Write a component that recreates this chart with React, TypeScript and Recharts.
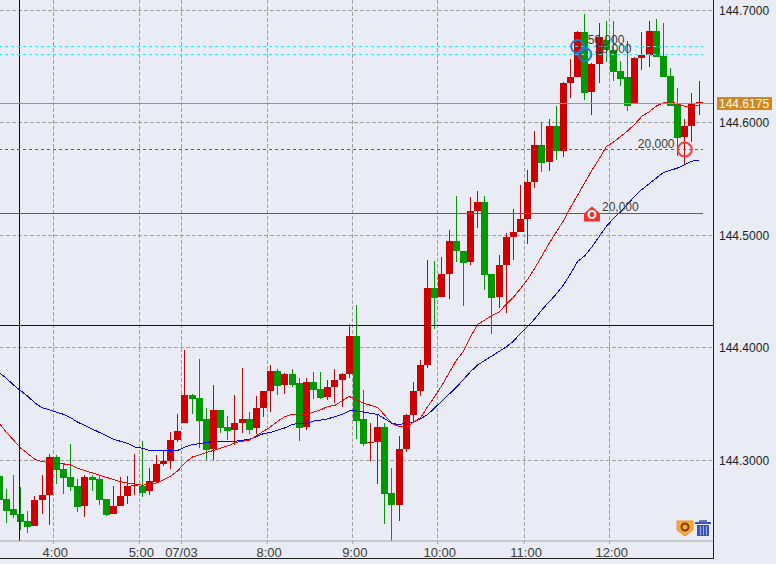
import { Bar, CartesianGrid, ComposedChart, Line, ReferenceDot, ReferenceLine, XAxis, YAxis } from "recharts";

const RED = "#CC0000";
const GREEN = "#009900";
const BG = "#E9ECF4";
const TEXT = "#3C3C3C";
const FONT = "'Liberation Sans', Arial, sans-serif";

const openPrices = [
  144.286, 144.265, 144.256, 144.252, 144.246, 144.241, 144.264, 144.269, 144.303, 144.292,
  144.285, 144.277, 144.259, 144.285, 144.283, 144.265, 144.252, 144.259, 144.268, 144.277,
  144.277, 144.272, 144.280, 144.296, 144.299, 144.318, 144.333, 144.358, 144.355, 144.336,
  144.310, 144.344, 144.329, 144.327, 144.333, 144.336, 144.328, 144.346, 144.361, 144.379,
  144.367, 144.376, 144.368, 144.329, 144.369, 144.363, 144.356, 144.365, 144.371, 144.376,
  144.410, 144.336, 144.315, 144.316, 144.329, 144.271, 144.260, 144.310, 144.340, 144.361,
  144.384, 144.453, 144.445, 144.465, 144.495, 144.486, 144.476, 144.521, 144.529, 144.465,
  144.445, 144.473, 144.498, 144.503, 144.514, 144.547, 144.580, 144.565, 144.597, 144.575,
  144.635, 144.640, 144.680, 144.627, 144.652, 144.673, 144.664, 144.646, 144.640, 144.616,
  144.657, 144.660, 144.681, 144.659, 144.641, 144.616, 144.587, 144.597, 144.617,
];
const closePrices = [
  144.264, 144.255, 144.251, 144.245, 144.240, 144.264, 144.269, 144.303, 144.291, 144.284,
  144.276, 144.258, 144.285, 144.282, 144.264, 144.251, 144.259, 144.268, 144.277, 144.278,
  144.271, 144.281, 144.296, 144.299, 144.318, 144.326, 144.358, 144.354, 144.335, 144.309,
  144.344, 144.328, 144.326, 144.333, 144.336, 144.327, 144.346, 144.361, 144.379, 144.366,
  144.376, 144.367, 144.328, 144.369, 144.362, 144.355, 144.365, 144.371, 144.376, 144.410,
  144.335, 144.314, 144.316, 144.329, 144.270, 144.260, 144.310, 144.340, 144.361, 144.384,
  144.453, 144.444, 144.465, 144.495, 144.486, 144.475, 144.521, 144.529, 144.464, 144.444,
  144.473, 144.498, 144.503, 144.514, 144.547, 144.580, 144.564, 144.597, 144.575, 144.635,
  144.640, 144.680, 144.626, 144.652, 144.676, 144.664, 144.645, 144.639, 144.615, 144.657,
  144.660, 144.681, 144.658, 144.640, 144.615, 144.586, 144.597, 144.616, 144.618,
];
const highPrices = [
  144.289, 144.274, 144.287, 144.276, 144.255, 144.268, 144.287, 144.305, 144.304, 144.296,
  144.314, 144.283, 144.287, 144.287, 144.287, 144.265, 144.277, 144.285, 144.286, 144.305,
  144.317, 144.293, 144.304, 144.308, 144.325, 144.341, 144.398, 144.359, 144.390, 144.346,
  144.367, 144.344, 144.339, 144.358, 144.382, 144.343, 144.357, 144.361, 144.384, 144.381,
  144.377, 144.381, 144.373, 144.373, 144.378, 144.378, 144.371, 144.381, 144.377, 144.421,
  144.438, 144.362, 144.333, 144.340, 144.333, 144.293, 144.321, 144.341, 144.369, 144.389,
  144.478, 144.477, 144.480, 144.504, 144.535, 144.486, 144.534, 144.539, 144.535, 144.465,
  144.482, 144.502, 144.523, 144.544, 144.558, 144.592, 144.600, 144.603, 144.615, 144.636,
  144.656, 144.681, 144.696, 144.653, 144.688, 144.690, 144.690, 144.655, 144.672, 144.658,
  144.680, 144.690, 144.692, 144.688, 144.648, 144.631, 144.603, 144.626, 144.637,
];
const lowPrices = [
  144.261, 144.244, 144.248, 144.238, 144.235, 144.241, 144.252, 144.242, 144.279, 144.270,
  144.272, 144.254, 144.249, 144.272, 144.260, 144.250, 144.252, 144.259, 144.261, 144.269,
  144.267, 144.269, 144.280, 144.295, 144.292, 144.316, 144.333, 144.341, 144.311, 144.300,
  144.300, 144.324, 144.318, 144.313, 144.324, 144.323, 144.323, 144.338, 144.343, 144.358,
  144.359, 144.365, 144.317, 144.327, 144.354, 144.354, 144.353, 144.351, 144.347, 144.373,
  144.319, 144.312, 144.299, 144.279, 144.243, 144.228, 144.246, 144.307, 144.333, 144.357,
  144.382, 144.416, 144.445, 144.443, 144.476, 144.437, 144.473, 144.506, 144.451, 144.412,
  144.435, 144.431, 144.478, 144.503, 144.492, 144.542, 144.556, 144.557, 144.567, 144.569,
  144.622, 144.640, 144.620, 144.607, 144.635, 144.654, 144.637, 144.632, 144.610, 144.616,
  144.647, 144.649, 144.658, 144.640, 144.615, 144.570, 144.562, 144.583, 144.607,
];
const fastAverage = [
  144.333, 144.325, 144.318, 144.311, 144.306, 144.301, 144.299, 144.298, 144.297, 144.297,
  144.296, 144.293, 144.291, 144.289, 144.287, 144.285, 144.283, 144.281, 144.280, 144.279,
  144.278, 144.279, 144.280, 144.283, 144.286, 144.291, 144.298, 144.303, 144.305, 144.307,
  144.309, 144.311, 144.313, 144.316, 144.317, 144.318, 144.322, 144.326, 144.330, 144.335,
  144.339, 144.341, 144.340, 144.341, 144.343, 144.345, 144.348, 144.349, 144.353, 144.357,
  144.354, 144.351, 144.349, 144.347, 144.340, 144.333, 144.330, 144.330, 144.334, 144.338,
  144.348, 144.357, 144.367, 144.378, 144.389, 144.397, 144.410, 144.421, 144.425, 144.429,
  144.432, 144.439, 144.445, 144.453, 144.461, 144.471, 144.482, 144.493, 144.503, 144.513,
  144.525, 144.536, 144.547, 144.558, 144.568, 144.579, 144.583, 144.588, 144.593, 144.599,
  144.606, 144.610, 144.615, 144.618, 144.619, 144.617, 144.615, 144.615, 144.616,
];
const slowAverage = [
  144.378, 144.373, 144.367, 144.362, 144.357, 144.351, 144.347, 144.345, 144.343, 144.341,
  144.338, 144.334, 144.331, 144.328, 144.325, 144.322, 144.319, 144.317, 144.315, 144.312,
  144.311, 144.309, 144.309, 144.309, 144.309, 144.309, 144.312, 144.314, 144.315, 144.316,
  144.317, 144.317, 144.317, 144.317, 144.318, 144.319, 144.321, 144.324, 144.325, 144.327,
  144.329, 144.332, 144.333, 144.333, 144.335, 144.336, 144.337, 144.339, 144.341, 144.344,
  144.344, 144.343, 144.342, 144.341, 144.337, 144.333, 144.332, 144.333, 144.334, 144.337,
  144.341, 144.347, 144.353, 144.359, 144.365, 144.372, 144.379, 144.385, 144.389, 144.393,
  144.397, 144.401, 144.406, 144.413, 144.419, 144.426, 144.434, 144.441, 144.448, 144.456,
  144.466, 144.477, 144.482, 144.490, 144.499, 144.508, 144.515, 144.521, 144.528, 144.535,
  144.541, 144.546, 144.551, 144.556, 144.558, 144.560, 144.563, 144.566, 144.567,
];

const priceTicks = [144.3, 144.4, 144.5, 144.6, 144.7];
const timeTicks = [7.55, 19.6, 25.5, 37.5, 49.5, 61.4, 73.5, 85.5];
const timeLabels = ["4:00", "5:00", "07/03", "8:00", "9:00", "10:00", "11:00", "12:00"];

const data = openPrices.map((open, i) => ({
  i,
  open,
  close: closePrices[i],
  high: highPrices[i],
  low: lowPrices[i],
  range: [lowPrices[i], highPrices[i]],
  fast: fastAverage[i],
  slow: slowAverage[i],
}));

function Candle({ x, y, width, height, payload }: any) {
  const { open, close, high, low } = payload;
  const perUnit = height / (high - low);
  const color = close >= open ? RED : GREEN;
  const left = Math.round(x + width / 2 - 3.5);
  const top = Math.floor(y);
  const bodyTop = Math.floor(y + (high - Math.max(open, close)) * perUnit);
  const bodyBottom = Math.floor(y + (high - Math.min(open, close)) * perUnit);
  return (
    <g shapeRendering="crispEdges">
      <rect x={left + 3} y={top} width={1} height={Math.floor(y + height) - top} fill={color} />
      <rect x={left} y={bodyTop} width={7} height={Math.max(bodyBottom - bodyTop, 1)} fill={color} />
    </g>
  );
}

function TimeTick({ x, y, payload }: any) {
  const label = timeLabels[timeTicks.indexOf(payload.value)];
  return (
    <text x={x + (label === "07/03" ? 0 : 2)} y={y + 11} textAnchor="middle" fontSize={13} fontFamily={FONT} fill={TEXT}>
      {label}
    </text>
  );
}

function PriceTag({ viewBox }: any) {
  const right = viewBox.x + viewBox.width;
  const mid = Math.round(viewBox.y);
  return (
    <g>
      <rect x={right + 4} y={mid - 6} width={55} height={13} fill="#D4861C" />
      <text x={right + 6} y={mid + 5} fontSize={12} fontFamily={FONT} fill="#FFFFFF">
        144.6175
      </text>
    </g>
  );
}

const orderText = (x: number, y: number, value: string) => (
  <text x={x} y={y} fontSize={12} fontFamily={FONT} fill={TEXT}>
    {value}
  </text>
);

function BlueOrder({ cx, cy, textDx, textDy, value }: any) {
  return (
    <g>
      <circle cx={cx} cy={cy} r={6.5} fill="none" stroke="#1E7AD2" strokeWidth={2} />
      {orderText(cx + textDx, cy + textDy, value)}
    </g>
  );
}

function RedOrder({ cx, cy }: any) {
  return (
    <g>
      <circle cx={cx} cy={cy} r={7} fill="none" stroke="#FF3B3B" strokeWidth={2} />
      {orderText(cx - 47, cy - 2, "20,000")}
    </g>
  );
}

function HouseOrder({ cx, cy }: any) {
  return (
    <g>
      <path d={`M${cx - 8} ${cy + 8}V${cy}L${cx} ${cy - 7}L${cx + 8} ${cy}V${cy + 8}Z`} fill="#F23030" />
      <circle cx={cx} cy={cy + 1} r={3.5} fill="none" stroke="#FFFFFF" strokeWidth={2} />
      {orderText(cx + 10, cy - 2, "20,000")}
    </g>
  );
}

export default function App() {
  return (
    <div style={{ position: "absolute", left: 0, top: 0, width: 776, height: 564, background: BG, overflow: "hidden" }}>
      <ComposedChart width={776} height={564} data={data} margin={{ top: 0, right: 0, bottom: 6, left: 0 }}>
        <CartesianGrid stroke="#A0A0A0" strokeDasharray="4 2" shapeRendering="crispEdges" horizontalValues={priceTicks} verticalValues={timeTicks} />
        <XAxis
          dataKey="i"
          type="number"
          domain={[0.09, 99.95]}
          allowDataOverflow
          ticks={timeTicks}
          interval={0}
          height={17}
          stroke="#A6A6A6"
          tickSize={3}
          tick={<TimeTick />}
        />
        <YAxis
          orientation="right"
          width={63}
          domain={[144.22844, 144.70933]}
          allowDataOverflow
          ticks={priceTicks}
          interval={0}
          axisLine={false}
          tickLine={false}
          tickMargin={0}
          tickFormatter={(v: number) => v.toFixed(4)}
          tick={{ fontSize: 12, fontFamily: FONT, fill: "#222222" }}
        />
        <Bar dataKey="range" barSize={7} shape={<Candle />} isAnimationActive={false} />
        <Line dataKey="slow" stroke="#0000FF" strokeWidth={1} dot={false} shapeRendering="crispEdges" isAnimationActive={false} />
        <Line dataKey="fast" stroke="#FF0000" strokeWidth={1} dot={false} shapeRendering="crispEdges" isAnimationActive={false} />
        <ReferenceLine x={2.82} stroke="#111111" shapeRendering="crispEdges" />
        <ReferenceLine y={144.42} stroke="#111111" shapeRendering="crispEdges" />
        <ReferenceLine y={144.6175} stroke="#C98A3C" shapeRendering="crispEdges" label={<PriceTag />} />
        <ReferenceLine segment={[{ x: 0.09, y: 144.668 }, { x: 98.55, y: 144.668 }]} stroke="#00FFFF" strokeDasharray="3 3" strokeDashoffset={1} shapeRendering="crispEdges" />
        <ReferenceLine segment={[{ x: 0.09, y: 144.6609 }, { x: 98.55, y: 144.6609 }]} stroke="#00FFFF" strokeDasharray="3 3" strokeDashoffset={1} shapeRendering="crispEdges" />
        <ReferenceLine segment={[{ x: 0.09, y: 144.5764 }, { x: 98.55, y: 144.5764 }]} stroke="#E000E0" strokeDasharray="3 3" strokeDashoffset={1} shapeRendering="crispEdges" />
        <ReferenceLine segment={[{ x: 0.09, y: 144.5196 }, { x: 98.55, y: 144.5196 }]} stroke="#E000E0" shapeRendering="crispEdges" />
        <ReferenceDot x={81} y={144.668} shape={<BlueOrder textDx={10} textDy={-2} value="50,000" />} />
        <ReferenceDot x={82} y={144.6609} shape={<BlueOrder textDx={10} textDy={-1} value="20,000" />} />
        <ReferenceDot x={96} y={144.5764} shape={<RedOrder />} />
        <ReferenceDot x={83} y={144.5196} shape={<HouseOrder />} />
      </ComposedChart>
      <svg width={776} height={564} style={{ position: "absolute", left: 0, top: 0, pointerEvents: "none" }}>
        <g shapeRendering="crispEdges" stroke="#222222">
          <line x1={0} x2={714} y1={558.5} y2={558.5} />
          <line x1={713.5} x2={713.5} y1={0} y2={559} />
        </g>
        <path d="M677 521H693V530L685 536L677 530Z" fill="#F9A83E" stroke="#F58A2A" />
        <circle cx={685} cy={527} r={3.5} fill="none" stroke="#7A4208" strokeWidth={2} />
        <g fill="#3B52C0">
          <rect x={695} y={522} width={16} height={2} />
          <rect x={699} y={520} width={8} height={2} fill="#6A7AB8" />
          <path d="M697 525H709V536H697Z" />
        </g>
        <g stroke="#9DB0E8">
          <line x1={700.5} x2={700.5} y1={526} y2={535} />
          <line x1={703.5} x2={703.5} y1={526} y2={535} />
          <line x1={706.5} x2={706.5} y1={526} y2={535} />
        </g>
      </svg>
    </div>
  );
}
